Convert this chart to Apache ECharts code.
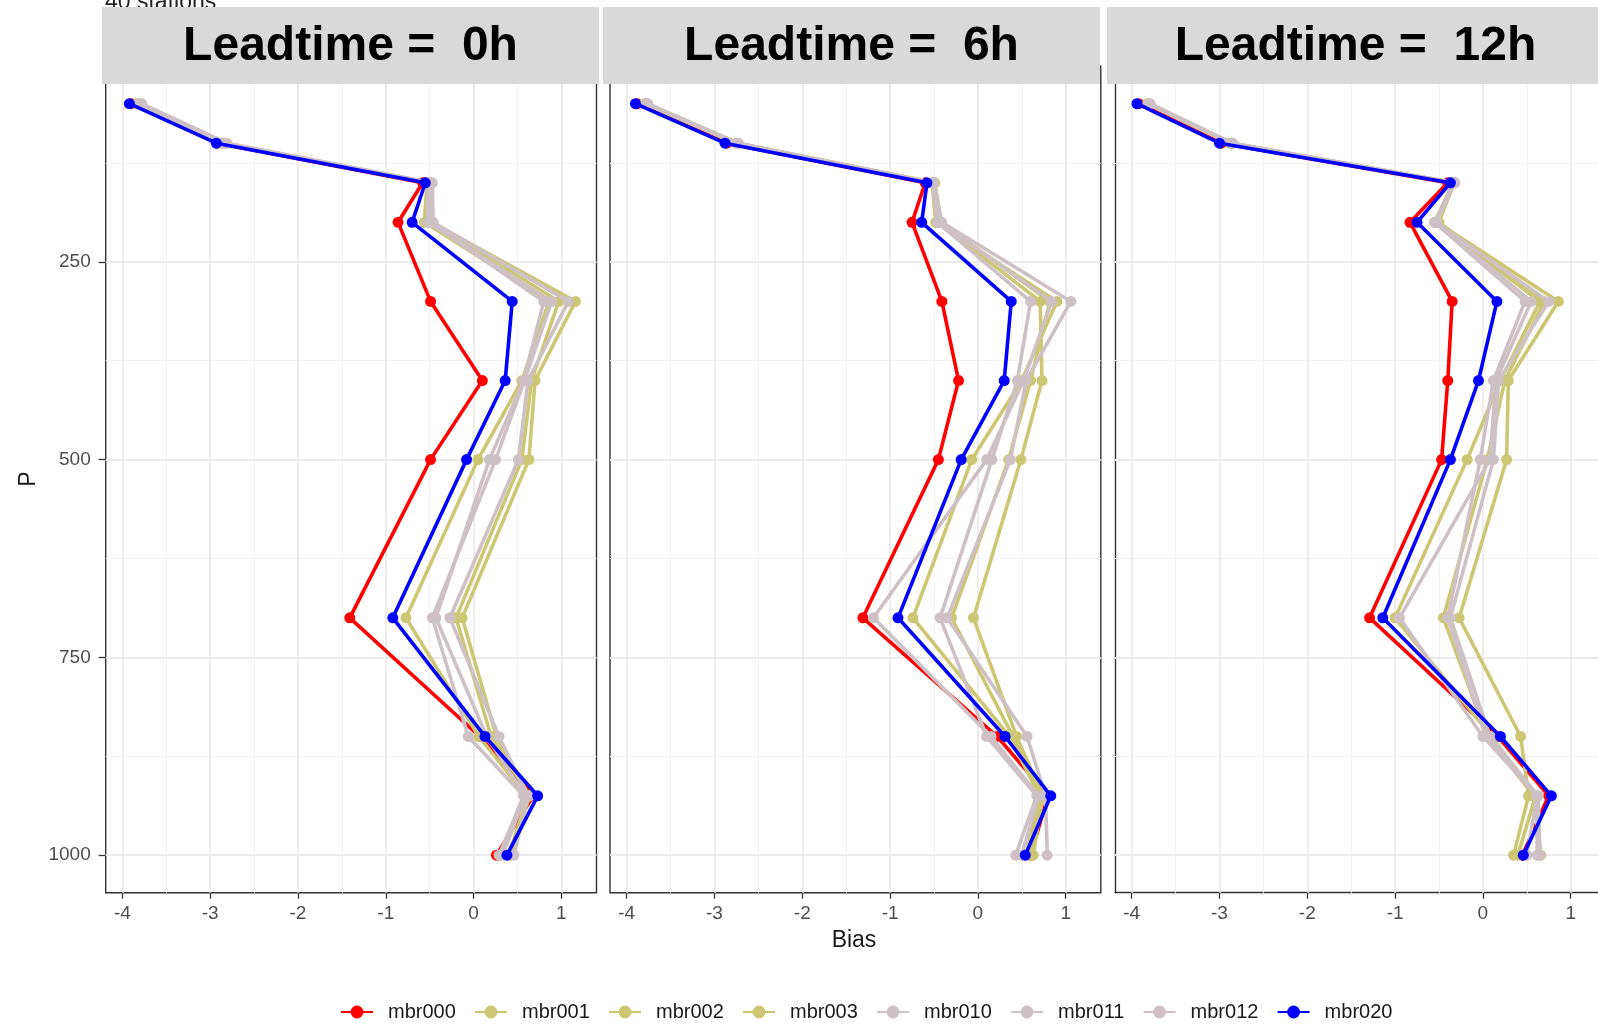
<!DOCTYPE html>
<html>
<head>
<meta charset="utf-8">
<title>Bias profiles by lead time</title>
<script src="https://cdn.jsdelivr.net/npm/echarts@6/dist/echarts.min.js"></script>
<style>
  html, body { margin: 0; padding: 0; background: #ffffff; }
  #chart { width: 1598px; height: 1024px; }
</style>
</head>
<body>
<div id="chart"></div>
<script>
// Pressure levels (hPa), one value per point of every profile
const levels = [50, 100, 150, 200, 300, 400, 500, 700, 850, 925, 1000];

// Facet labels
const leadtimes = ['Leadtime =  0h', 'Leadtime =  6h', 'Leadtime =  12h'];

// Ensemble members and their colours
const members = ['mbr000', 'mbr001', 'mbr002', 'mbr003', 'mbr010', 'mbr011', 'mbr012', 'mbr020'];
const memberColors = ['#ff0000', '#cdc673', '#cdc673', '#cdc673', '#cdc1c5', '#cdc1c5', '#cdc1c5', '#0000ff'];

// Bias at each level, leadtime 0h
const lt00_mbr000 = [-3.90, -2.92, -0.58, -0.86, -0.49, 0.10, -0.49, -1.41, 0.07, 0.68, 0.26];
const lt00_mbr001 = [-3.80, -2.84, -0.49, -0.48, 1.16, 0.70, 0.63, -0.13, 0.26, 0.62, 0.40];
const lt00_mbr002 = [-3.84, -2.87, -0.53, -0.56, 0.86, 0.55, 0.05, -0.77, 0.06, 0.60, 0.30];
const lt00_mbr003 = [-3.79, -2.82, -0.49, -0.47, 0.97, 0.66, 0.55, -0.20, 0.20, 0.64, 0.42];
const lt00_mbr010 = [-3.78, -2.81, -0.47, -0.46, 1.08, 0.62, 0.51, -0.27, 0.29, 0.62, 0.46];
const lt00_mbr011 = [-3.82, -2.85, -0.52, -0.52, 0.89, 0.58, 0.25, -0.47, -0.06, 0.57, 0.29];
const lt00_mbr012 = [-3.80, -2.83, -0.50, -0.50, 0.80, 0.57, 0.18, -0.43, 0.15, 0.59, 0.33];
const lt00_mbr020 = [-3.92, -2.93, -0.55, -0.70, 0.44, 0.36, -0.08, -0.92, 0.13, 0.73, 0.38];

// Bias at each level, leadtime 6h
const lt06_mbr000 = [-3.88, -2.86, -0.60, -0.75, -0.41, -0.22, -0.45, -1.31, 0.22, 0.80, 0.60];
const lt06_mbr001 = [-3.78, -2.74, -0.50, -0.45, 0.71, 0.73, 0.49, -0.05, 0.44, 0.74, 0.63];
const lt06_mbr002 = [-3.80, -2.76, -0.52, -0.48, 0.90, 0.50, -0.07, -0.74, 0.36, 0.70, 0.55];
const lt06_mbr003 = [-3.77, -2.73, -0.49, -0.42, 0.82, 0.60, 0.35, -0.30, 0.40, 0.72, 0.60];
const lt06_mbr010 = [-3.76, -2.73, -0.50, -0.41, 1.06, 0.55, 0.37, -0.35, 0.56, 0.77, 0.79];
const lt06_mbr011 = [-3.79, -2.75, -0.52, -0.46, 0.60, 0.45, 0.16, -0.43, 0.10, 0.67, 0.43];
const lt06_mbr012 = [-3.78, -2.74, -0.51, -0.44, 0.84, 0.52, 0.10, -1.19, 0.15, 0.69, 0.50];
const lt06_mbr020 = [-3.90, -2.88, -0.58, -0.64, 0.38, 0.30, -0.19, -0.91, 0.31, 0.83, 0.54];

// Bias at each level, leadtime 12h
const lt12_mbr000 = [-3.92, -2.98, -0.40, -0.83, -0.35, -0.40, -0.47, -1.29, 0.17, 0.75, 0.45];
const lt12_mbr001 = [-3.80, -2.86, -0.32, -0.52, 0.86, 0.29, 0.27, -0.27, 0.43, 0.52, 0.35];
const lt12_mbr002 = [-3.82, -2.88, -0.34, -0.55, 0.65, 0.20, -0.18, -1.00, 0.10, 0.60, 0.40];
const lt12_mbr003 = [-3.81, -2.87, -0.33, -0.50, 0.70, 0.25, 0.05, -0.45, 0.05, 0.58, 0.66];
const lt12_mbr010 = [-3.79, -2.85, -0.32, -0.53, 0.75, 0.18, 0.12, -0.37, 0.08, 0.63, 0.65];
const lt12_mbr011 = [-3.80, -2.87, -0.33, -0.55, 0.48, 0.12, -0.03, -0.40, 0.03, 0.61, 0.62];
const lt12_mbr012 = [-3.81, -2.86, -0.34, -0.54, 0.55, 0.15, 0.08, -0.95, 0.00, 0.62, 0.50];
const lt12_mbr020 = [-3.94, -3.00, -0.37, -0.75, 0.16, -0.05, -0.37, -1.14, 0.20, 0.78, 0.46];

// Axis breaks
const xMajor = [-4, -3, -2, -1, 0, 1];
const xMinor = [-3.5, -2.5, -1.5, -0.5, 0.5];
const yMajor = [250, 500, 750, 1000];
const yMinor = [125, 375, 625, 875];

// Profiles per facet, in member order
const facetProfiles = [
  [lt00_mbr000, lt00_mbr001, lt00_mbr002, lt00_mbr003, lt00_mbr010, lt00_mbr011, lt00_mbr012, lt00_mbr020],
  [lt06_mbr000, lt06_mbr001, lt06_mbr002, lt06_mbr003, lt06_mbr010, lt06_mbr011, lt06_mbr012, lt06_mbr020],
  [lt12_mbr000, lt12_mbr001, lt12_mbr002, lt12_mbr003, lt12_mbr010, lt12_mbr011, lt12_mbr012, lt12_mbr020]
];

// Layout of the three panels (top edge sits under the strips).
// The third panel runs off the right edge, so it is drawn only up to the
// canvas edge with a correspondingly shorter x range (same px per unit).
const FONT = 'Liberation Sans';
const CANVAS_W = 1598;
const panelLeft = [105.7, 610, 1115];
const panelWidth = 490.8;
const panelTop = 66.1;
const panelHeight = 826.6;
const xRange = [-4.19, 1.40];
const yRange = [2.5, 1047.5];
const pxPerUnit = panelWidth / (xRange[1] - xRange[0]);

const grids = [], xAxes = [], yAxes = [], series = [], graphics = [];

panelLeft.forEach((left, i) => {
  const clipped = left + panelWidth > CANVAS_W;
  const width = clipped ? CANVAS_W - left : panelWidth;
  const xMax = clipped ? xRange[0] + width / pxPerUnit : xRange[1];
  const frame = { color: '#333333', width: 1.4 };

  grids.push({
    left: left, top: panelTop, width: width, height: panelHeight,
    show: true, backgroundColor: '#ffffff',
    borderColor: '#333333', borderWidth: clipped ? 0 : 1.4
  });

  xAxes.push({
    type: 'value', gridIndex: i, min: xRange[0], max: xMax, position: 'bottom',
    axisLine: { show: clipped, onZero: false, lineStyle: frame },
    splitLine: { show: false },
    axisTick: { show: true, length: 6, customValues: xMajor, lineStyle: { color: '#333333', width: 1.3 } },
    axisLabel: { show: true, customValues: xMajor, margin: 12, fontSize: 19, color: '#4d4d4d', fontFamily: FONT,
      formatter: v => String(v) }
  });

  yAxes.push({
    type: 'value', gridIndex: i, inverse: true, min: yRange[0], max: yRange[1], position: 'left',
    axisLine: { show: clipped, onZero: false, lineStyle: frame },
    splitLine: { show: false },
    axisTick: { show: i === 0, length: 7, customValues: yMajor, lineStyle: { color: '#333333', width: 1.3 } },
    axisLabel: { show: i === 0, customValues: yMajor, margin: 15, fontSize: 19, color: '#4d4d4d', fontFamily: FONT,
      formatter: v => String(v) }
  });

  // background grid lines (major and minor) for this panel
  const gridLines = [];
  xMinor.forEach(v => gridLines.push({ xAxis: v, lineStyle: { color: '#f3f3f3', width: 1, type: 'solid' } }));
  yMinor.forEach(v => gridLines.push({ yAxis: v, lineStyle: { color: '#f3f3f3', width: 1, type: 'solid' } }));
  xMajor.forEach(v => gridLines.push({ xAxis: v, lineStyle: { color: '#ebebeb', width: 1.8, type: 'solid' } }));
  yMajor.forEach(v => gridLines.push({ yAxis: v, lineStyle: { color: '#ebebeb', width: 1.8, type: 'solid' } }));
  series.push({
    name: '_grid' + i, type: 'line', xAxisIndex: i, yAxisIndex: i,
    data: [], showSymbol: false, symbol: 'none',
    lineStyle: { opacity: 0 }, silent: true, z: 1,
    markLine: {
      silent: true, symbol: ['none', 'none'], animation: false, z: 1,
      label: { show: false }, emphasis: { disabled: true },
      data: gridLines
    }
  });

  // one profile line per member
  members.forEach((m, k) => {
    const vals = facetProfiles[i][k];
    series.push({
      name: m, type: 'line', xAxisIndex: i, yAxisIndex: i,
      data: levels.map((p, j) => [vals[j], p]),
      symbol: 'circle', symbolSize: 11, showSymbol: true,
      itemStyle: { color: memberColors[k] },
      lineStyle: { color: memberColors[k], width: 3.6 },
      emphasis: { disabled: true },
      z: 3 + k
    });
  });

  // facet strip
  const stripLeft = [102, 603, 1107][i];
  graphics.push({
    type: 'rect', z: 100,
    shape: { x: stripLeft, y: 7, width: 497, height: 77 },
    style: { fill: '#d9d9d9' }
  });
  graphics.push({
    type: 'text', z: 101,
    x: stripLeft + 248.5, y: 47,
    style: {
      text: leadtimes[i], fill: '#000000', font: 'bold 48px "' + FONT + '"',
      align: 'center', verticalAlign: 'middle'
    }
  });
});

// subtitle partly tucked behind the strips
graphics.push({
  type: 'text', z: 50, x: 105, y: 14,
  style: { text: '40 stations', fill: '#222222', font: '23px "' + FONT + '"', align: 'left', verticalAlign: 'bottom' }
});
// axis titles
graphics.push({
  type: 'text', z: 50, x: 854, y: 941,
  style: { text: 'Bias', fill: '#1a1a1a', font: '23px "' + FONT + '"', align: 'center', verticalAlign: 'middle' }
});
graphics.push({
  type: 'text', z: 50, x: 28.5, y: 479, rotation: Math.PI / 2,
  style: { text: 'P', fill: '#1a1a1a', font: '23px "' + FONT + '"', align: 'center', verticalAlign: 'middle' }
});

const chart = echarts.init(document.getElementById('chart'), null, { renderer: 'canvas' });
chart.setOption({
  animation: false,
  backgroundColor: '#ffffff',
  grid: grids,
  xAxis: xAxes,
  yAxis: yAxes,
  legend: {
    data: members,
    left: 335, top: 997,
    orient: 'horizontal',
    itemWidth: 32, itemHeight: 16, itemGap: 18.2,
    textStyle: { fontSize: 20, color: '#1a1a1a', fontFamily: FONT, padding: [0, 0, 0, 10] },
    selectedMode: false
  },
  series: series,
  graphic: { elements: graphics }
});
</script>
</body>
</html>
